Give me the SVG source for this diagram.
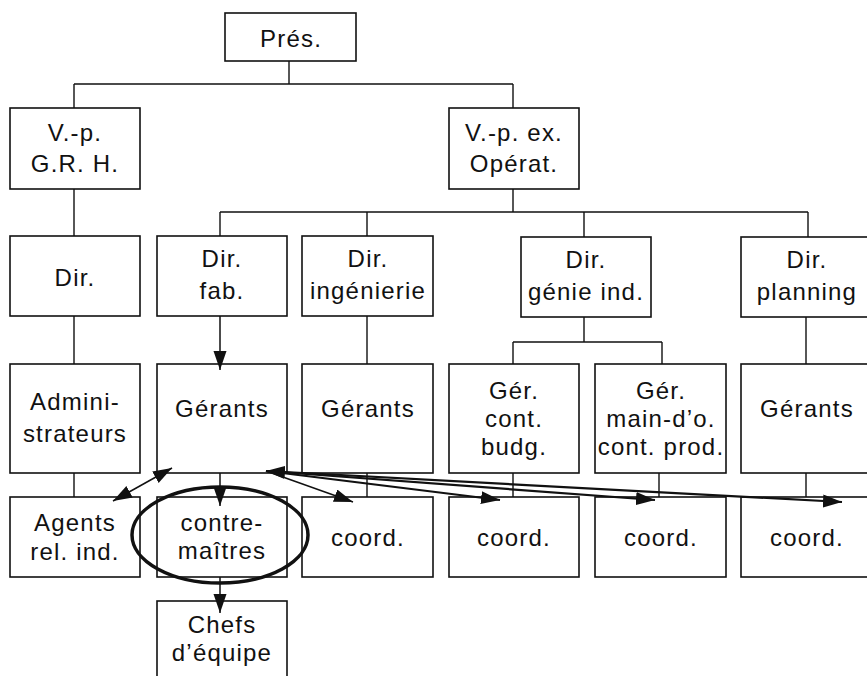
<svg xmlns="http://www.w3.org/2000/svg" width="867" height="676" viewBox="0 0 867 676">
<style>
.box{fill:#fff;stroke:#111;stroke-width:1.6}
.t{font-family:"Liberation Sans",Arial,Helvetica,sans-serif;font-size:24px;letter-spacing:1.2px;fill:#111;text-anchor:middle}
.c{fill:none;stroke:#111;stroke-width:1.4}
.a{fill:none;stroke:#111;stroke-width:1.5}
.ak{fill:none;stroke:#111;stroke-width:2.2}
</style>
<defs>
<marker id="ah" markerUnits="userSpaceOnUse" markerWidth="22" markerHeight="14" refX="19" refY="6.5" orient="auto-start-reverse">
<path d="M0,0 L19,6.5 L0,13 z" fill="#111"/>
</marker>
</defs>
<rect width="867" height="676" fill="#fff"/>
<g id="n-pres"><rect class="box" x="225" y="13" width="131" height="48"/><text class="t" x="291" y="47">Prés.</text></g>
<g id="n-vpgrh"><rect class="box" x="10" y="108" width="130" height="81"/><text class="t" x="75" y="141">V.-p.</text><text class="t" x="75" y="172">G.R. H.</text></g>
<g id="n-vpex"><rect class="box" x="449" y="108" width="130" height="81"/><text class="t" x="514" y="141">V.-p. ex.</text><text class="t" x="514" y="172">Opérat.</text></g>
<g id="n-dir"><rect class="box" x="10" y="236" width="130" height="80"/><text class="t" x="75" y="286">Dir.</text></g>
<g id="n-dirfab"><rect class="box" x="157" y="236" width="130" height="80"/><text class="t" x="222" y="267">Dir.</text><text class="t" x="222" y="299">fab.</text></g>
<g id="n-diring"><rect class="box" x="302" y="236" width="131" height="80"/><text class="t" x="368" y="267">Dir.</text><text class="t" x="368" y="299">ingénierie</text></g>
<g id="n-dirgenie"><rect class="box" x="521" y="237" width="130" height="80"/><text class="t" x="586" y="268">Dir.</text><text class="t" x="586" y="300">génie ind.</text></g>
<g id="n-dirplan"><rect class="box" x="741" y="237" width="131" height="80"/><text class="t" x="807" y="268">Dir.</text><text class="t" x="807" y="300">planning</text></g>
<g id="n-admin"><rect class="box" x="10" y="364" width="130" height="109"/><text class="t" x="75" y="410">Admini-</text><text class="t" x="75" y="442">strateurs</text></g>
<g id="n-ger1"><rect class="box" x="157" y="364" width="130" height="109"/><text class="t" x="222" y="417">Gérants</text></g>
<g id="n-ger2"><rect class="box" x="302" y="364" width="131" height="109"/><text class="t" x="368" y="417">Gérants</text></g>
<g id="n-gerbudg"><rect class="box" x="449" y="364" width="130" height="109"/><text class="t" x="514" y="399">Gér.</text><text class="t" x="514" y="427">cont.</text><text class="t" x="514" y="455">budg.</text></g>
<g id="n-germain"><rect class="box" x="595" y="364" width="131" height="109"/><text class="t" x="661" y="399">Gér.</text><text class="t" x="661" y="427">main-d’o.</text><text class="t" x="661" y="455">cont. prod.</text></g>
<g id="n-ger3"><rect class="box" x="741" y="364" width="131" height="109"/><text class="t" x="807" y="417">Gérants</text></g>
<g id="n-agents"><rect class="box" x="10" y="497" width="130" height="80"/><text class="t" x="75" y="531">Agents</text><text class="t" x="75" y="560">rel. ind.</text></g>
<g id="n-contre"><rect class="box" x="157" y="497" width="130" height="80"/><text class="t" x="222" y="531">contre-</text><text class="t" x="222" y="559">maîtres</text></g>
<g id="n-coord1"><rect class="box" x="302" y="497" width="131" height="80"/><text class="t" x="368" y="546">coord.</text></g>
<g id="n-coord2"><rect class="box" x="449" y="497" width="130" height="80"/><text class="t" x="514" y="546">coord.</text></g>
<g id="n-coord3"><rect class="box" x="595" y="497" width="131" height="80"/><text class="t" x="661" y="546">coord.</text></g>
<g id="n-coord4"><rect class="box" x="741" y="497" width="131" height="80"/><text class="t" x="807" y="546">coord.</text></g>
<g id="n-chefs"><rect class="box" x="157" y="601" width="130" height="85"/><text class="t" x="222" y="633">Chefs</text><text class="t" x="222" y="661">d’équipe</text></g>
<g id="highlight"><ellipse cx="220" cy="535" rx="88" ry="48" fill="none" stroke="#111" stroke-width="3.5"/></g>
<g id="connectors">
<path class="c" d="M289,61 V84 M74,84 H513 M74,84 V108 M513,84 V108"/>
<path class="c" d="M74,189 V236 M513,189 V212 M220,212 H808 M220,212 V236 M367,212 V236 M584,212 V237 M808,212 V237"/>
<path class="c" d="M74,316 V364 M367,316 V364 M584,317 V342 M513,342 H662 M513,342 V364 M662,342 V364 M806,317 V364"/>
<path class="c" d="M74,473 V497 M367,473 V497 M513,473 V497 M659,473 V497 M806,473 V497"/>
<path class="a" d="M220,316 V370" marker-end="url(#ah)"/>
<path class="a" d="M220,473 V506" marker-end="url(#ah)"/>
<path class="a" d="M220,577 V613" marker-end="url(#ah)"/>
<path class="a" d="M172,468 L113,501" marker-start="url(#ah)" marker-end="url(#ah)"/>
<path class="a" d="M266,471 L353,502" marker-end="url(#ah)"/>
<path class="ak" d="M266,471 L500,500" marker-end="url(#ah)"/>
<path class="ak" d="M266,471 L655,500" marker-start="url(#ah)" marker-end="url(#ah)"/>
<path class="ak" d="M266,471 L842,502" marker-end="url(#ah)"/>
</g>
</svg>
